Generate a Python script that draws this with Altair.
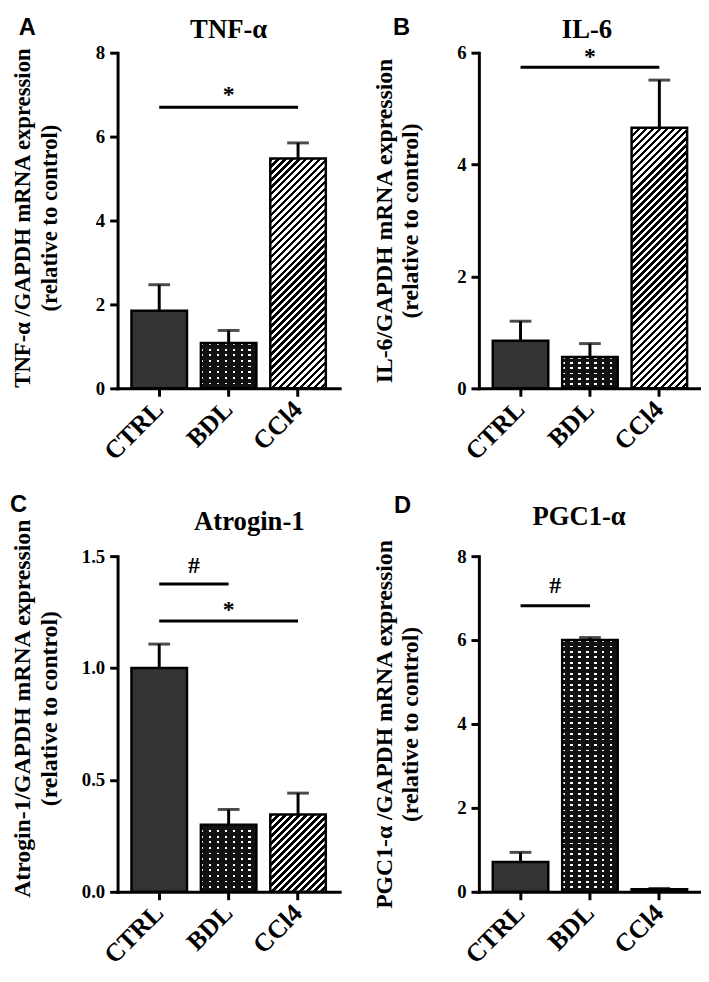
import altair as alt
import pandas as pd

# ---------------- data ----------------
groups = ["CTRL", "BDL", "CCl4"]
letters = ["A", "B", "C", "D"]
titles = ["TNF-α", "IL-6", "Atrogin-1", "PGC1-α"]
y_titles = [
    ["TNF-α /GAPDH mRNA expression", "(relative to control)"],
    ["IL-6/GAPDH mRNA expression", "(relative to control)"],
    ["Atrogin-1/GAPDH mRNA expression", "(relative to control)"],
    ["PGC1-α /GAPDH mRNA expression", "(relative to control)"],
]
y_max = [8, 6, 1.5, 8]
y_ticks = [[0, 2, 4, 6, 8], [0, 2, 4, 6], [0.0, 0.5, 1.0, 1.5], [0, 2, 4, 6, 8]]
y_formats = ["d", "d", ".1f", "d"]

tnf_mean = [1.85, 1.08, 5.48]
tnf_upper = [2.47, 1.38, 5.85]
il6_mean = [0.85, 0.56, 4.66]
il6_upper = [1.20, 0.80, 5.51]
atro_mean = [1.00, 0.30, 0.345]
atro_upper = [1.107, 0.368, 0.441]
pgc_mean = [0.71, 6.00, 0.06]
pgc_upper = [0.94, 6.06, 0.08]
means = [tnf_mean, il6_mean, atro_mean, pgc_mean]
uppers = [tnf_upper, il6_upper, atro_upper, pgc_upper]

sig_from = [["CTRL"], ["CTRL"], ["CTRL", "CTRL"], ["CTRL"]]
sig_to = [["CCl4"], ["CCl4"], ["BDL", "CCl4"], ["BDL"]]
sig_line = [[6.7], [5.74], [1.376, 1.21], [6.82]]
sig_symbol = [["*"], ["*"], ["#", "*"], ["#"]]
sig_text_y = [[7.0], [5.93], [1.454, 1.257], [7.28]]

# ---------------- style ----------------
SERIF = "Liberation Serif"
SANS = "Liberation Sans"
W, H = 225, 340
PAD_IN, PAD_OUT = 0.2, 0.2
STEP = W / (len(groups) - PAD_IN + 2 * PAD_OUT)
BW = STEP * (1 - PAD_IN)
title_dx = [0, -3, 21, -11]
title_gap = [15, 15, 27, 32]
letter_dx = [-100, -87, -109, -86]
letter_dy = [-18, -18, -45, -44]
ytitle_center = [167, 170, 154, 170]
ytitle_size = [23, 24, 24, 24]


def stripe_stops(n, on_frac, on_color, off_color):
    stops = []
    for i in range(n):
        a = i / n
        b = (i + on_frac) / n
        c = (i + 1) / n
        stops += [
            {"offset": round(a, 5), "color": on_color},
            {"offset": round(b, 5), "color": on_color},
            {"offset": round(b, 5), "color": off_color},
            {"offset": round(c, 5), "color": off_color},
        ]
    return stops


def straight_stripes(length, period, on_frac, on_color, off_color, vertical):
    n = max(1, int(round(length / period)))
    return {
        "gradient": "linear",
        "x1": 0, "y1": 0,
        "x2": 0 if vertical else 1,
        "y2": 1 if vertical else 0,
        "stops": stripe_stops(n, on_frac, on_color, off_color),
    }


def diag_stripes(w, h, period, on_frac, on_color, off_color):
    h = max(h, 1.0)
    r = h / w
    a = (1 + r) / (1 + r * r)
    n = max(1, int(round((w + h) / (period * 2 ** 0.5))))
    return {
        "gradient": "linear",
        "x1": 0, "y1": 0, "x2": a, "y2": a * r,
        "stops": stripe_stops(n, on_frac, on_color, off_color),
    }


def panel(i):
    df = pd.DataFrame({"group": groups, "mean": means[i], "upper": uppers[i]})
    xscale = alt.Scale(domain=groups, paddingInner=PAD_IN, paddingOuter=PAD_OUT)
    xaxis = alt.Axis(
        title=None, labelAngle=-45, labelAlign="right", labelBaseline="middle",
        labelFont=SERIF, labelFontSize=26, labelFontWeight="bold", labelColor="black",
        labelPadding=9, tickSize=8, tickWidth=3, tickColor="black",
        domainColor="black", domainWidth=3, domainCap="square", grid=False,
    )
    yscale = alt.Scale(domain=[0, y_max[i]], nice=False, zero=True)
    yaxis = alt.Axis(
        title=y_titles[i], values=y_ticks[i], format=y_formats[i],
        labelFont=SERIF, labelFontSize=19, labelFontWeight="bold", labelColor="black",
        labelPadding=5, tickSize=8, tickWidth=3, tickColor="black",
        domainColor="black", domainWidth=3, domainCap="square", grid=False,
        titleFont=SERIF, titleFontSize=ytitle_size[i], titleFontWeight="bold", titleColor="black",
        titleLineHeight=27, titlePadding=22, minExtent=35, maxExtent=35,
        titleY=ytitle_center[i],
    )

    def X(field):
        return alt.X(field, scale=xscale, axis=xaxis)

    def Y(field):
        return alt.Y(field, scale=yscale, axis=yaxis)

    base = alt.Chart(df)
    layers = []
    for g, m in zip(groups, means[i]):
        hpx = m / y_max[i] * H
        b = base.transform_filter(alt.datum.group == g)
        enc = dict(x=X("group:N"), y=Y("mean:Q"))
        if g == "CTRL":
            layers.append(b.mark_bar(fill="#333333", stroke="black", strokeWidth=2.5).encode(**enc))
        elif g == "BDL":
            layers.append(b.mark_bar(fill="#111111").encode(**enc))
            rows = straight_stripes(max(hpx, 1), 5.5, 0.32, "#ffffff", "rgba(0,0,0,0)", True)
            layers.append(b.mark_bar(fill=rows).encode(**enc))
            cols = straight_stripes(BW, 8.0, 0.33, "rgba(0,0,0,0)", "#111111", False)
            layers.append(b.mark_bar(fill=cols).encode(**enc))
            layers.append(b.mark_bar(fillOpacity=0, stroke="black", strokeWidth=2.5).encode(**enc))
        else:
            diag = diag_stripes(BW, hpx, 5.0, 0.5, "#000000", "#ffffff")
            layers.append(b.mark_bar(fill=diag, stroke="black", strokeWidth=2.5).encode(**enc))

    layers.append(base.mark_rule(color="black", strokeWidth=3).encode(
        x=X("group:N"), y=Y("mean:Q"), y2="upper:Q"))
    layers.append(base.mark_tick(color="black", orient="horizontal", size=22, thickness=3).encode(
        x=X("group:N"), y=Y("upper:Q")))

    for k in range(len(sig_from[i])):
        sdf = pd.DataFrame({"from": [sig_from[i][k]], "to": [sig_to[i][k]],
                            "ly": [sig_line[i][k]], "sym": [sig_symbol[i][k]],
                            "sy": [sig_text_y[i][k]]})
        sb = alt.Chart(sdf)
        layers.append(sb.mark_rule(color="black", strokeWidth=3).encode(
            x=X("from:N"), x2="to:N", y=Y("ly:Q")))
        dx = (groups.index(sig_to[i][k]) - groups.index(sig_from[i][k])) / 2 * STEP
        layers.append(sb.mark_text(font=SERIF, fontWeight="bold", fontSize=24, color="black",
                                   baseline="middle", dx=dx).encode(
            x=X("from:N"), y=Y("sy:Q"), text="sym:N"))

    ldf = pd.DataFrame({"letter": [letters[i]], "title": [titles[i]]})
    layers.append(alt.Chart(ldf).mark_text(font=SANS, fontWeight="bold", fontSize=24, color="black",
                                           align="left", baseline="alphabetic").encode(
        x=alt.value(letter_dx[i]), y=alt.value(letter_dy[i]), text="letter:N"))
    layers.append(alt.Chart(ldf).mark_text(font=SERIF, fontWeight="bold", fontSize=27, color="black",
                                           align="center", baseline="alphabetic").encode(
        x=alt.value(W / 2 + title_dx[i]), y=alt.value(-title_gap[i]), text="title:N"))

    return alt.layer(*layers).properties(width=W, height=H)


chart = alt.ConcatChart(
    concat=[panel(i) for i in range(4)],
    columns=2,
    spacing={"row": 170, "column": 141},
    bounds="flush",
).properties(padding={"left": 2, "top": 2, "right": 0, "bottom": 0}).configure_view(stroke=None)

chart.save("out.html", embed_options={"renderer": "svg", "actions": False})
